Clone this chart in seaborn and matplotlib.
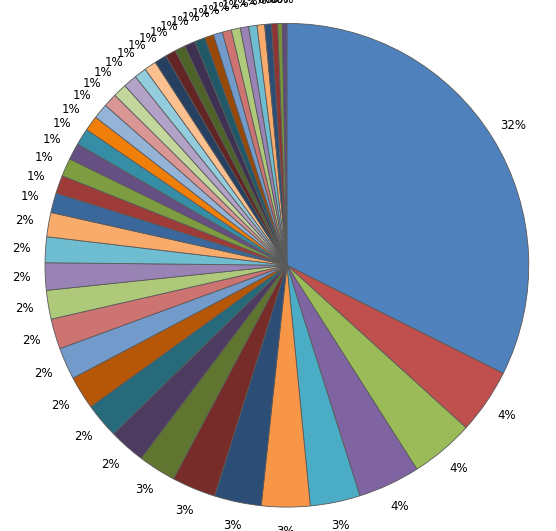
import matplotlib
matplotlib.use('Agg')
import matplotlib.pyplot as plt
import seaborn as sns

sns.set_style('white')

values = [32.0, 4.3, 4.2, 4.1, 3.3, 3.2, 3.1, 2.9,
          2.5, 2.4, 2.3, 2.2, 2.1, 2.0, 1.9, 1.8, 1.7, 1.6,
          1.3, 1.2, 1.2, 1.1, 1.1, 1.0, 1.0, 0.9, 0.9, 0.9, 0.8, 0.8, 0.8, 0.7,
          0.7, 0.7, 0.7, 0.6, 0.6, 0.6, 0.6, 0.55, 0.55, 0.5, 0.45, 0.4, 0.3, 0.3]

base = ['#4F81BD', '#C0504D', '#9BBB59', '#8064A2', '#4BACC6', '#F79646']
dark = ['#2C4D75', '#772C2A', '#5F7530', '#4D3B62', '#276A7C', '#B65708']
light = ['#729ACA', '#CD7371', '#AFC97A', '#9983B5', '#6FBDD1', '#F9AB6B']
mid = ['#3A679C', '#9E3B38', '#7E9C40', '#664F83', '#358EA6', '#F07F09']
pale = ['#95B3D7', '#D99694', '#C3D69B', '#B3A2C7', '#93CDDD', '#FAC090']
darkest = ['#254061', '#632523', '#4F6228', '#3F3151', '#215968', '#984807']
colors = (base + dark + light + mid + pale + darkest + light
          + ['#2C4D75', '#8E3533', '#77933C', '#604A7B'])[:len(values)]

fig = plt.figure(figsize=(5.56, 5.31), dpi=100)
ax = fig.add_axes([0.081, 0.045, 0.870, 0.911])
ax.pie(values, colors=colors, startangle=90, counterclock=False,
       autopct='%1.0f%%', pctdistance=1.1,
       wedgeprops=dict(edgecolor='#595959', linewidth=0.6),
       textprops=dict(fontsize=8.5, color='black'))
ax.set_xlim(-1, 1)
ax.set_ylim(-1, 1)
ax.set_aspect('equal')
fig.savefig('out.png', dpi=100)
